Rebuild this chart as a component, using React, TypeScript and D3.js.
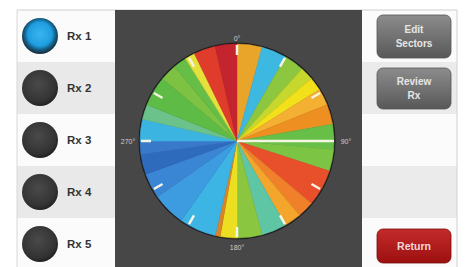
import React from "react";
import * as d3 from "d3";

// ---- data ----
const sectorWidths = [15, 15, 12, 8, 8, 10, 12, 15, 13, 22, 10, 10, 15, 15, 10, 3, 22, 20, 15, 12, 8, 13, 9, 18, 10, 8, 6, 13, 13];
const sectorColors = [
  "#E9A52A", "#3DB8E0", "#8DC63F", "#C6D72E", "#F2E01A", "#F3B032", "#EE8F22",
  "#68BF48", "#7BC444", "#E8502C", "#F0802A", "#F4A62C", "#5EC5A5", "#8BC640",
  "#ECDF22", "#D98228", "#3CB5E4", "#3C9CDF", "#3B86D4", "#2F6BBD", "#3879C9",
  "#3CB4E2", "#6BC28A", "#5DBB46", "#7DC242", "#67BE47", "#E6E03A", "#E03C2C", "#C4242E",
];
const tickDegrees = [0, 30, 60, 120, 150, 180, 210, 240, 270, 300, 330];
const axisLabels = ["0°", "90°", "180°", "270°"];
const axisLabelDegrees = [0, 90, 180, 270];
const rxLabels = ["Rx 1", "Rx 2", "Rx 3", "Rx 4", "Rx 5"];
const selectedRx = 0;
const markerDegree = 90;

const W = 466, H = 267;
const cx = 237, cy = 141, R = 97;

export default function App() {
  const angle = d3.scaleLinear().domain([0, 360]).range([0, 2 * Math.PI]);
  const pie = d3.pie<number>().sort(null).value((d) => d).startAngle(0).endAngle(2 * Math.PI);
  const arcs = pie(sectorWidths);
  const arc = d3.arc<d3.PieArcDatum<number>>().innerRadius(0).outerRadius(R);
  const pt = (deg: number, r: number) => {
    const a = angle(deg);
    return [cx + r * Math.sin(a), cy - r * Math.cos(a)];
  };
  const rowY = d3.scaleBand<number>().domain([0, 1, 2, 3, 4]).range([10, 270]);
  const rowH = rowY.bandwidth();

  return (
    <svg width={W} height={H} style={{ position: "absolute", left: 0, top: 0, fontFamily: "Liberation Sans, Arial, sans-serif" }}>
      <defs>
        <radialGradient id="dark" cx="45%" cy="40%" r="60%">
          <stop offset="0%" stopColor="#4a4a4a" />
          <stop offset="80%" stopColor="#333" />
          <stop offset="100%" stopColor="#222" />
        </radialGradient>
        <radialGradient id="blue" cx="50%" cy="45%" r="55%">
          <stop offset="0%" stopColor="#3ab4f0" />
          <stop offset="60%" stopColor="#1e9ee0" />
          <stop offset="80%" stopColor="#145a80" />
          <stop offset="100%" stopColor="#1a2a35" />
        </radialGradient>
        <linearGradient id="gbtn" x1="0" y1="0" x2="0" y2="1">
          <stop offset="0%" stopColor="#8c8c8c" />
          <stop offset="100%" stopColor="#585858" />
        </linearGradient>
        <linearGradient id="rbtn" x1="0" y1="0" x2="0" y2="1">
          <stop offset="0%" stopColor="#c42a2a" />
          <stop offset="100%" stopColor="#9c1010" />
        </linearGradient>
      </defs>
      <rect x={0} y={0} width={W} height={H} fill="#ffffff" />
      {/* left panel rows */}
      {rxLabels.map((t, i) => (
        <g key={t}>
          <rect x={17} y={rowY(i)!} width={98} height={rowH} fill={i % 2 ? "#e9e9e9" : "#fbfbfb"} />
          <circle cx={40} cy={rowY(i)! + rowH / 2} r={18} fill={i === selectedRx ? "url(#blue)" : "url(#dark)"} />
          <text x={67} y={rowY(i)! + rowH / 2 + 4} fontSize={11.5} fontWeight="bold" fill="#333">{t}</text>
        </g>
      ))}
      {/* right panel rows */}
      {rxLabels.map((t, i) => (
        <rect key={"r" + t} x={362} y={rowY(i)!} width={95} height={rowH} fill={i % 2 ? "#ebebeb" : "#fbfbfb"} />
      ))}
      <line x1={17} y1={10} x2={457} y2={10} stroke="#cfcfcf" strokeWidth={1} />
      <line x1={17} y1={10} x2={17} y2={H} stroke="#d8d8d8" strokeWidth={1} />
      <line x1={457} y1={10} x2={457} y2={H} stroke="#d0d0d0" strokeWidth={1} />
      {/* dark chart panel */}
      <rect x={115} y={10} width={247} height={H - 10} fill="#474747" />
      {/* pie */}
      <circle cx={cx} cy={cy} r={R + 1.5} fill="#1e1e1e" />
      <g transform={`translate(${cx},${cy})`}>
        {arcs.map((a, i) => (
          <path key={i} d={arc(a) || ""} fill={sectorColors[i]} stroke={sectorColors[i]} strokeWidth={0.5} />
        ))}
      </g>
      {/* ticks */}
      {tickDegrees.map((d) => {
        const [x1, y1] = pt(d, R - 11);
        const [x2, y2] = pt(d, R - 1);
        return <line key={d} x1={x1} y1={y1} x2={x2} y2={y2} stroke="#f4f4e4" strokeWidth={2.5} />;
      })}
      {(() => {
        const [x2, y2] = pt(markerDegree, R);
        return <line x1={cx} y1={cy} x2={x2} y2={y2} stroke="#f4f4e4" strokeWidth={2.5} />;
      })()}
      {/* axis labels */}
      {axisLabels.map((t, i) => {
        const d = axisLabelDegrees[i];
        const [x, y] = pt(d, R + (d === 0 ? 6 : d === 180 ? 9 : 12));
        return (
          <text key={t} x={x} y={y + 2.5} fontSize={7} fill="#cfcfcf" textAnchor="middle">{t}</text>
        );
      })}
      {/* buttons */}
      <rect x={377} y={15} width={74} height={43} rx={6} fill="url(#gbtn)" stroke="#555" strokeWidth={0.8} />
      <text x={414} y={33} fontSize={10} fontWeight="bold" fill="#e6e6e6" textAnchor="middle">Edit</text>
      <text x={414} y={47} fontSize={10} fontWeight="bold" fill="#e6e6e6" textAnchor="middle">Sectors</text>
      <rect x={377} y={68} width={74} height={41} rx={6} fill="url(#gbtn)" stroke="#555" strokeWidth={0.8} />
      <text x={414} y={85} fontSize={10} fontWeight="bold" fill="#e6e6e6" textAnchor="middle">Review</text>
      <text x={414} y={99} fontSize={10} fontWeight="bold" fill="#e6e6e6" textAnchor="middle">Rx</text>
      <rect x={377} y={229} width={74} height={34} rx={6} fill="url(#rbtn)" stroke="#7a0c0c" strokeWidth={0.8} />
      <text x={414} y={250} fontSize={10.5} fontWeight="bold" fill="#f2d8d8" textAnchor="middle">Return</text>
    </svg>
  );
}
